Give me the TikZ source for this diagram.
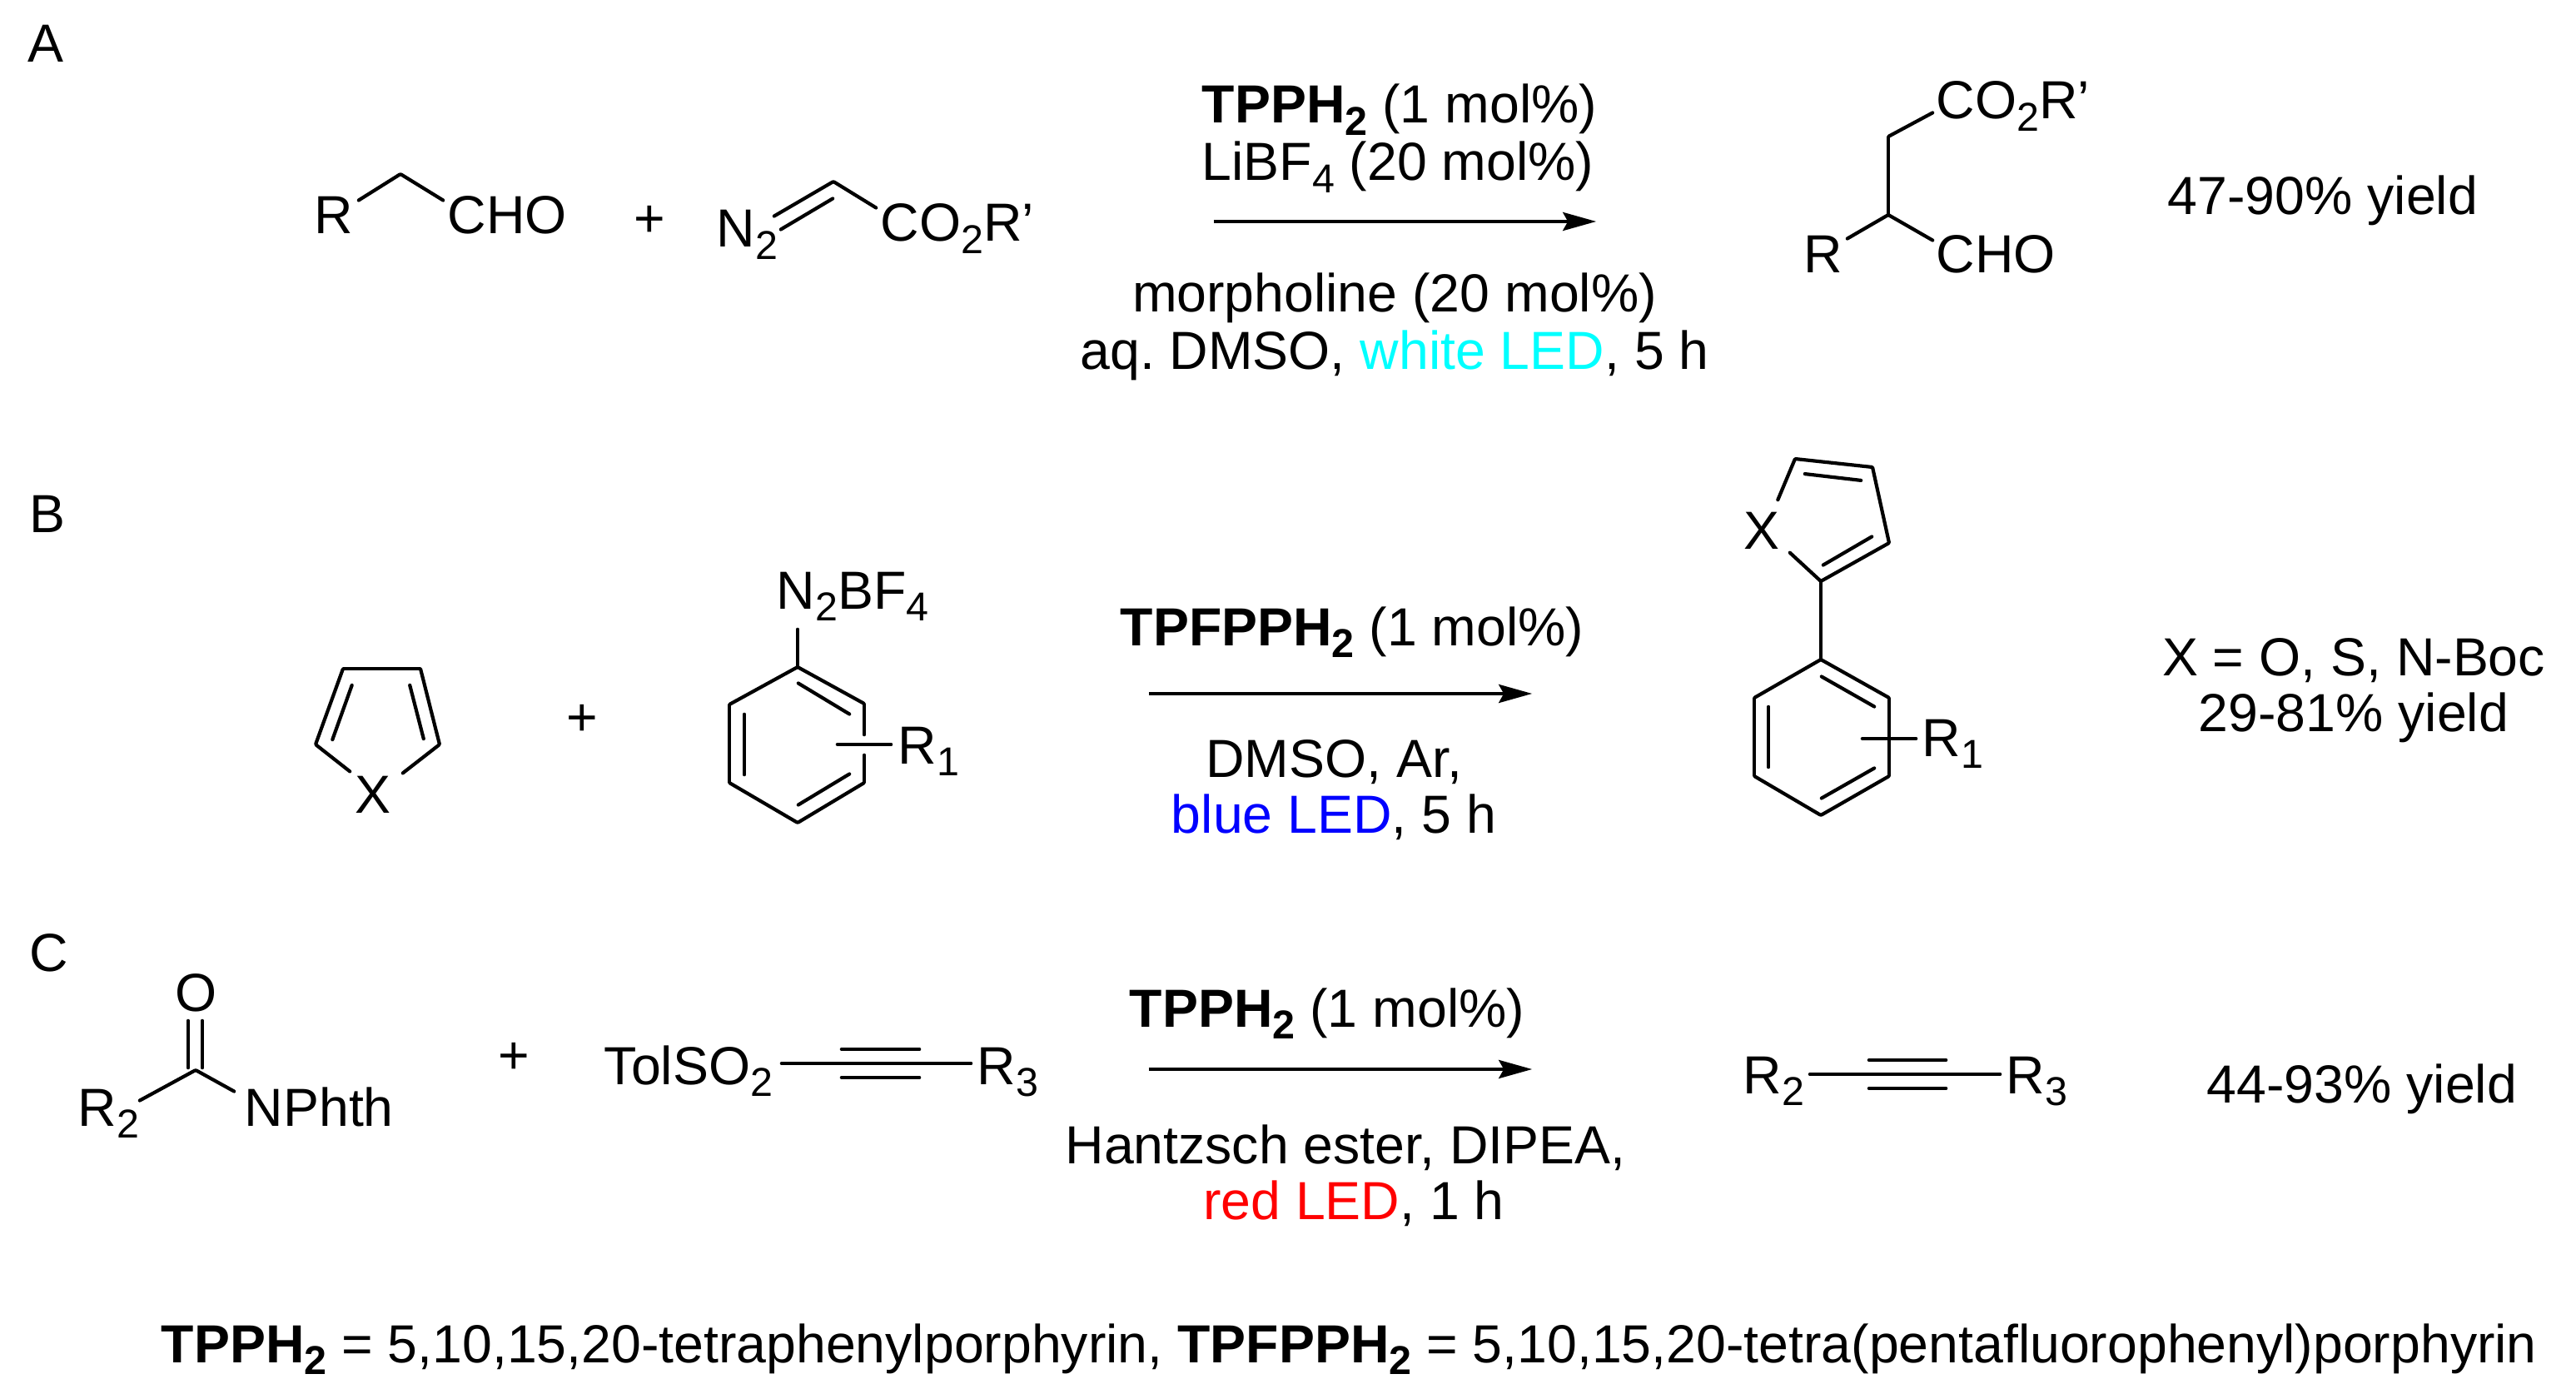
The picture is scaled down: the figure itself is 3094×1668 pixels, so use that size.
\documentclass[tikz,border=0pt]{standalone}
\usepackage{fontspec}
\setmainfont{Liberation Sans}
\usetikzlibrary{arrows.meta}
\definecolor{ledcyan}{RGB}{0,255,255}
\definecolor{ledblue}{RGB}{0,0,255}
\definecolor{ledred}{RGB}{255,0,0}
\newcommand{\lowsub}[1]{\raisebox{-3.6pt}{\fontsize{12.1}{14}\selectfont #1}}
\begin{document}
\begin{tikzpicture}
[x=0.25pt,y=-0.25pt,
  vertexdecorate/.style={inner sep=0pt,minimum size=0pt},%
  linedecorate/.style={-,line width=1.05pt,line cap=round},%
  arrowdecorate/.style={-{Stealth[length=10pt,width=5.5pt,inset=1.5pt]},line width=1.05pt},%
  atomdecorate/.style={anchor=base west,inner sep=0pt,xshift=-1pt,font=\fontsize{16.1}{18}\selectfont},%
  textdecorate/.style={anchor=base,inner sep=0pt,font=\fontsize{16.1}{18}\selectfont}]
\useasboundingbox (0,0) rectangle (3094,1668);
%%% panel A
\node (labela) at (55,75) [textdecorate] {A};
% nodes or vertices
\node (r) at (381,281) [atomdecorate] {R};
\node (cho) at (541,281) [atomdecorate] {CHO};
\node (plusa) at (780,285) [textdecorate] {+};
\node (ntwo) at (864,297) [atomdecorate] {N\lowsub{2}};
\node (ester) at (1061,290) [atomdecorate] {CO\lowsub{2}R’};
\node (a1) at (430,241) [vertexdecorate] {};
\node (a2) at (481,209) [vertexdecorate] {};
\node (a3) at (533,241) [vertexdecorate] {};
\node (a4) at (929,260) [vertexdecorate] {};
\node (a5) at (1001,218) [vertexdecorate] {};
\node (a6) at (937,276) [vertexdecorate] {};
\node (a7) at (1001,238) [vertexdecorate] {};
\node (a8) at (1053,250) [vertexdecorate] {};
\node (arrowa1) at (1457,266) [vertexdecorate] {};
\node (arrowa2) at (1918,266) [vertexdecorate] {};
\node (conda1) at (1681,148) [textdecorate] {\textbf{TPPH\lowsub{2}} (1 mol\%)};
\node (conda2) at (1679,217) [textdecorate] {LiBF\lowsub{4} (20 mol\%)};
\node (conda3) at (1675,375) [textdecorate] {morpholine (20 mol\%)};
\node (conda4) at (1675,444) [textdecorate] {aq.\ DMSO, \textcolor{ledcyan}{white LED}, 5 h};
\node (esterp) at (2329,143) [atomdecorate] {CO\lowsub{2}R’};
\node (rp) at (2170,328) [atomdecorate] {R};
\node (chop) at (2329,328) [atomdecorate] {CHO};
\node (p1) at (2322,135) [vertexdecorate] {};
\node (p2) at (2268,164) [vertexdecorate] {};
\node (p3) at (2268,258) [vertexdecorate] {};
\node (p4) at (2218,287) [vertexdecorate] {};
\node (p5) at (2322,289) [vertexdecorate] {};
\node (yielda) at (2790,258) [textdecorate] {47-90\% yield};
% edges or lines
\path
(a1) edge[linedecorate] node {} (a2)
(a2) edge[linedecorate] node {} (a3)
(a4) edge[linedecorate] node {} (a5)
(a6) edge[linedecorate] node {} (a7)
(a5) edge[linedecorate] node {} (a8)
(p1) edge[linedecorate] node {} (p2)
(p2) edge[linedecorate] node {} (p3)
(p3) edge[linedecorate] node {} (p4)
(p3) edge[linedecorate] node {} (p5)
(arrowa1) edge[arrowdecorate] node {} (arrowa2);
%
%%% panel B
\node (labelb) at (57,640) [textdecorate] {B};
% nodes or vertices
\node (x) at (430,976) [atomdecorate] {X};
\node (plusb) at (699,883) [textdecorate] {+};
\node (diazo) at (936,731) [atomdecorate] {N\lowsub{2}BF\lowsub{4}};
\node (rone) at (1082,917) [atomdecorate] {R\lowsub{1}};
\node (b1) at (421,927) [vertexdecorate] {};
\node (b2) at (379,894) [vertexdecorate] {};
\node (b3) at (412,803) [vertexdecorate] {};
\node (b4) at (505,803) [vertexdecorate] {};
\node (b5) at (528,894) [vertexdecorate] {};
\node (b6) at (483,929) [vertexdecorate] {};
\node (b7) at (423,822) [vertexdecorate] {};
\node (b8) at (399,889) [vertexdecorate] {};
\node (b9) at (492,822) [vertexdecorate] {};
\node (b10) at (509,888) [vertexdecorate] {};
\node (c0) at (958,755) [vertexdecorate] {};
\node (c1) at (958,801) [vertexdecorate] {};
\node (c2) at (1038,845) [vertexdecorate] {};
\node (c3) at (1038,883) [vertexdecorate] {};
\node (c4) at (1038,906) [vertexdecorate] {};
\node (c5) at (1038,940) [vertexdecorate] {};
\node (c6) at (958,988) [vertexdecorate] {};
\node (c7) at (876,940) [vertexdecorate] {};
\node (c8) at (876,846) [vertexdecorate] {};
\node (c9) at (958,820) [vertexdecorate] {};
\node (c10) at (1021,858) [vertexdecorate] {};
\node (c11) at (894,857) [vertexdecorate] {};
\node (c12) at (894,931) [vertexdecorate] {};
\node (c13) at (958,967) [vertexdecorate] {};
\node (c14) at (1021,929) [vertexdecorate] {};
\node (c15) at (1005,894) [vertexdecorate] {};
\node (c16) at (1071,894) [vertexdecorate] {};
\node (arrowb1) at (1379,833) [vertexdecorate] {};
\node (arrowb2) at (1841,833) [vertexdecorate] {};
\node (condb1) at (1624,775) [textdecorate] {\textbf{TPFPPH\lowsub{2}} (1 mol\%)};
\node (condb2) at (1602,933) [textdecorate] {DMSO, Ar,};
\node (condb3) at (1602,1000) [textdecorate] {\textcolor{ledblue}{blue LED}, 5 h};
\node (xp) at (2098,659) [atomdecorate] {X};
\node (ronep) at (2312,908) [atomdecorate] {R\lowsub{1}};
\node (d1) at (2135,601) [vertexdecorate] {};
\node (d2) at (2156,551) [vertexdecorate] {};
\node (d3) at (2249,561) [vertexdecorate] {};
\node (d4) at (2269,652) [vertexdecorate] {};
\node (d5) at (2187,698) [vertexdecorate] {};
\node (d6) at (2149,663) [vertexdecorate] {};
\node (d7) at (2167,569) [vertexdecorate] {};
\node (d8) at (2236,577) [vertexdecorate] {};
\node (d9) at (2249,644) [vertexdecorate] {};
\node (d10) at (2189,679) [vertexdecorate] {};
\node (e1) at (2187,792) [vertexdecorate] {};
\node (e2) at (2269,838) [vertexdecorate] {};
\node (e3) at (2269,932) [vertexdecorate] {};
\node (e4) at (2187,979) [vertexdecorate] {};
\node (e5) at (2107,932) [vertexdecorate] {};
\node (e6) at (2107,838) [vertexdecorate] {};
\node (e7) at (2187,812) [vertexdecorate] {};
\node (e8) at (2252,849) [vertexdecorate] {};
\node (e9) at (2124,848) [vertexdecorate] {};
\node (e10) at (2124,922) [vertexdecorate] {};
\node (e11) at (2187,959) [vertexdecorate] {};
\node (e12) at (2252,922) [vertexdecorate] {};
\node (e13) at (2236,887) [vertexdecorate] {};
\node (e14) at (2302,887) [vertexdecorate] {};
\node (yieldb1) at (2827,811) [textdecorate] {X = O, S, N-Boc};
\node (yieldb2) at (2827,878) [textdecorate] {29-81\% yield};
% edges or lines
\path
(b1) edge[linedecorate] node {} (b2)
(b2) edge[linedecorate] node {} (b3)
(b3) edge[linedecorate] node {} (b4)
(b4) edge[linedecorate] node {} (b5)
(b5) edge[linedecorate] node {} (b6)
(b7) edge[linedecorate] node {} (b8)
(b9) edge[linedecorate] node {} (b10)
(c0) edge[linedecorate] node {} (c1)
(c1) edge[linedecorate] node {} (c2)
(c2) edge[linedecorate] node {} (c3)
(c4) edge[linedecorate] node {} (c5)
(c5) edge[linedecorate] node {} (c6)
(c6) edge[linedecorate] node {} (c7)
(c7) edge[linedecorate] node {} (c8)
(c8) edge[linedecorate] node {} (c1)
(c9) edge[linedecorate] node {} (c10)
(c11) edge[linedecorate] node {} (c12)
(c13) edge[linedecorate] node {} (c14)
(c15) edge[linedecorate] node {} (c16)
(d1) edge[linedecorate] node {} (d2)
(d2) edge[linedecorate] node {} (d3)
(d3) edge[linedecorate] node {} (d4)
(d4) edge[linedecorate] node {} (d5)
(d5) edge[linedecorate] node {} (d6)
(d7) edge[linedecorate] node {} (d8)
(d9) edge[linedecorate] node {} (d10)
(d5) edge[linedecorate] node {} (e1)
(e1) edge[linedecorate] node {} (e2)
(e2) edge[linedecorate] node {} (e3)
(e3) edge[linedecorate] node {} (e4)
(e4) edge[linedecorate] node {} (e5)
(e5) edge[linedecorate] node {} (e6)
(e6) edge[linedecorate] node {} (e1)
(e7) edge[linedecorate] node {} (e8)
(e9) edge[linedecorate] node {} (e10)
(e11) edge[linedecorate] node {} (e12)
(e13) edge[linedecorate] node {} (e14)
(arrowb1) edge[arrowdecorate] node {} (arrowb2);
%
%%% panel C
\node (labelc) at (59,1166) [textdecorate] {C};
% nodes or vertices
\node (oxo) at (236,1214) [textdecorate] {O};
\node (rtwo) at (97,1352) [atomdecorate] {R\lowsub{2}};
\node (nphth) at (297,1352) [atomdecorate] {NPhth};
\node (plusc) at (617,1289) [textdecorate] {+};
\node (tol) at (729,1302) [atomdecorate] {TolSO\lowsub{2}};
\node (rthree) at (1177,1302) [atomdecorate] {R\lowsub{3}};
\node (f1) at (226,1225) [vertexdecorate] {};
\node (f2) at (226,1283) [vertexdecorate] {};
\node (f3) at (243,1225) [vertexdecorate] {};
\node (f4) at (243,1283) [vertexdecorate] {};
\node (f5) at (235,1285) [vertexdecorate] {};
\node (f6) at (167,1322) [vertexdecorate] {};
\node (f7) at (282,1311) [vertexdecorate] {};
\node (g1) at (938,1277) [vertexdecorate] {};
\node (g2) at (1167,1277) [vertexdecorate] {};
\node (g3) at (1010,1260) [vertexdecorate] {};
\node (g4) at (1105,1260) [vertexdecorate] {};
\node (g5) at (1010,1294) [vertexdecorate] {};
\node (g6) at (1105,1294) [vertexdecorate] {};
\node (arrowc1) at (1379,1284) [vertexdecorate] {};
\node (arrowc2) at (1841,1284) [vertexdecorate] {};
\node (condc1) at (1594,1233) [textdecorate] {\textbf{TPPH\lowsub{2}} (1 mol\%)};
\node (condc2) at (1616,1397) [textdecorate] {Hantzsch ester, DIPEA,};
\node (condc3) at (1626,1464) [textdecorate] {\textcolor{ledred}{red LED}, 1 h};
\node (rtwop) at (2097,1313) [atomdecorate] {R\lowsub{2}};
\node (rthreep) at (2413,1313) [atomdecorate] {R\lowsub{3}};
\node (h1) at (2173,1290) [vertexdecorate] {};
\node (h2) at (2403,1290) [vertexdecorate] {};
\node (h3) at (2244,1273) [vertexdecorate] {};
\node (h4) at (2338,1273) [vertexdecorate] {};
\node (h5) at (2244,1307) [vertexdecorate] {};
\node (h6) at (2338,1307) [vertexdecorate] {};
\node (yieldc) at (2837,1324) [textdecorate] {44-93\% yield};
\node (legend) at (197,1636) [atomdecorate] {\textbf{TPPH\lowsub{2}} = 5,10,15,20-tetraphenylporphyrin, \textbf{TPFPPH\lowsub{2}} = 5,10,15,20-tetra(pentafluorophenyl)porphyrin};
% edges or lines
\path
(f1) edge[linedecorate] node {} (f2)
(f3) edge[linedecorate] node {} (f4)
(f5) edge[linedecorate] node {} (f6)
(f5) edge[linedecorate] node {} (f7)
(g1) edge[linedecorate] node {} (g2)
(g3) edge[linedecorate] node {} (g4)
(g5) edge[linedecorate] node {} (g6)
(h1) edge[linedecorate] node {} (h2)
(h3) edge[linedecorate] node {} (h4)
(h5) edge[linedecorate] node {} (h6)
(arrowc1) edge[arrowdecorate] node {} (arrowc2);
\end{tikzpicture}
\end{document}
